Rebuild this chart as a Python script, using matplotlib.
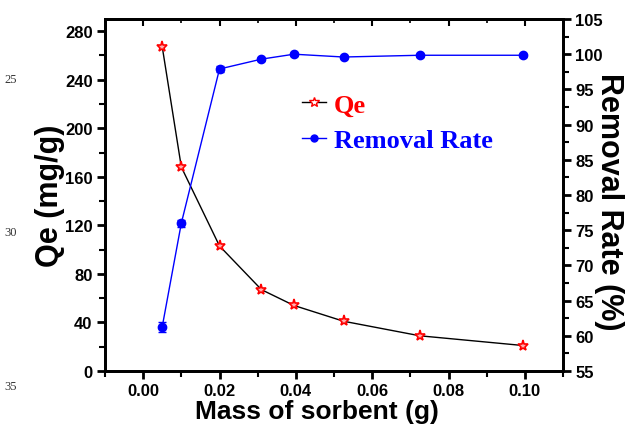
import matplotlib
matplotlib.use('Agg')
from matplotlib import pyplot as plt
from matplotlib.lines import Line2D
from matplotlib.ticker import MultipleLocator

mass = [0.005, 0.01, 0.02, 0.031, 0.0395, 0.0525, 0.0725, 0.0995]
qe = [267, 168, 103, 67, 54, 41, 29, 21]
removal = [61.3, 76.0, 97.9, 99.3, 100.0, 99.6, 99.85, 99.85]
removal_err = [0.7, 0.5, 0.4, 0.2, 0.2, 0.2, 0.2, 0.2]

sans = ['Liberation Sans', 'DejaVu Sans']
serif = ['Liberation Serif', 'DejaVu Serif']

fig = plt.figure(figsize=(6.25, 4.27), dpi=100)
ax = fig.add_axes([105 / 625, 55 / 427, 458 / 625, 352 / 427])
ax2 = ax.twinx()

ax.plot(mass, qe, color='black', lw=1, marker='*', ms=8, mec='red',
        mfc='#ffb0b0', mew=1.2, zorder=3)
ax2.errorbar(mass, removal, yerr=removal_err, color='blue', lw=1,
             marker='o', ms=6, mfc='blue', mec='blue', capsize=3)

ax.set_xlim(-0.01, 0.11)
ax.set_ylim(0, 290)
ax2.set_ylim(55, 105)

ax.xaxis.set_major_locator(MultipleLocator(0.02))
ax.xaxis.set_minor_locator(MultipleLocator(0.01))
ax.yaxis.set_major_locator(MultipleLocator(40))
ax.yaxis.set_minor_locator(MultipleLocator(20))
ax2.yaxis.set_major_locator(MultipleLocator(5))
ax2.yaxis.set_minor_locator(MultipleLocator(2.5))
ax.xaxis.set_major_formatter(lambda v, p: f'{v:.2f}')

for a in (ax, ax2):
    for s in a.spines.values():
        s.set_linewidth(2)
ax.tick_params(axis='both', which='major', length=6, width=2, direction='out',
               labelsize=12, pad=3)
ax.tick_params(axis='both', which='minor', length=4, width=1.5, direction='out')
ax2.tick_params(axis='y', which='major', length=6, width=2, direction='out',
                labelsize=12, pad=3)
ax2.tick_params(axis='y', which='minor', length=4, width=1.5, direction='out')

top = ax.secondary_xaxis('top')
top.xaxis.set_major_locator(MultipleLocator(0.02))
top.xaxis.set_minor_locator(MultipleLocator(0.01))
top.tick_params(which='major', direction='in', length=5, width=1.5,
                labeltop=False)
top.tick_params(which='minor', direction='in', length=3, width=1.2)
top.spines['top'].set_linewidth(2)

for lab in ax.get_xticklabels() + ax.get_yticklabels() + ax2.get_yticklabels():
    lab.set_fontweight('bold')
    lab.set_family(sans)

ax.set_xlabel('Mass of sorbent (g)', fontsize=19, fontweight='bold',
              family=sans, labelpad=1)
ax.xaxis.set_label_coords(0.463, -0.08)
ax.set_ylabel('Qe (mg/g)', fontsize=22, fontweight='bold', family=sans)
ax.yaxis.set_label_coords(-0.088, 0.5)
fig.text(609 / 625, 1 - 202 / 427, 'Removal Rate (%)', fontsize=22,
         fontweight='bold', family=sans, rotation=-90, ha='center',
         va='center')

handles = [Line2D([], [], color='black', lw=1, marker='*', ms=7, mec='red',
                  mfc='white', mew=1.0),
           Line2D([], [], color='blue', lw=1, marker='o', ms=5, mfc='blue',
                  mec='blue')]
leg = ax.legend(handles, ['Qe', 'Removal Rate'], loc='upper left',
                bbox_to_anchor=(302 / 625, 1 - 94 / 427),
                bbox_transform=fig.transFigure, borderaxespad=0, borderpad=0,
                frameon=False,
                prop={'family': serif, 'weight': 'bold', 'size': 19},
                handlelength=0.9, handletextpad=0.3, labelspacing=0.45)
for t, c in zip(leg.get_texts(), ['red', 'blue']):
    t.set_color(c)

for txt, y in [('25', 80), ('30', 233), ('35', 387)]:
    fig.text(4 / 625, 1 - y / 427, txt, fontsize=9, family=serif,
             va='center', color='#333333')

fig.savefig('out.png', dpi=100)
